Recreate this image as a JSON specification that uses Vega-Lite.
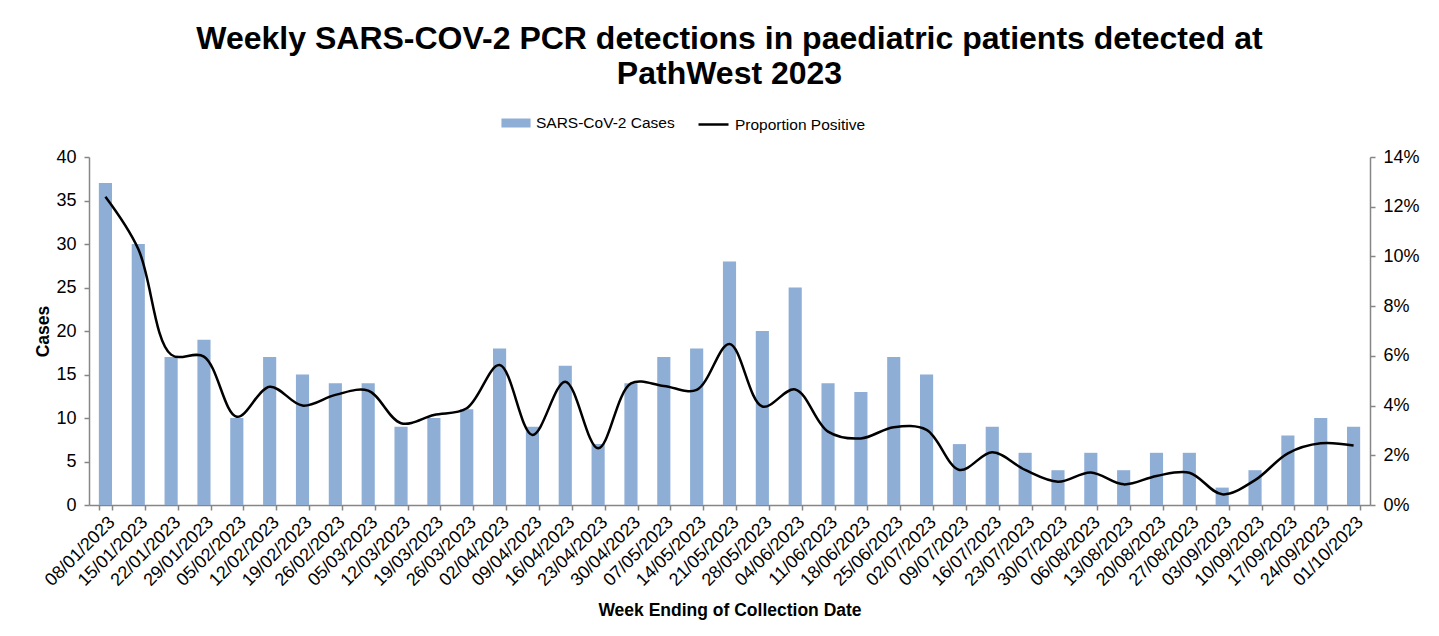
{
  "$schema": "https://vega.github.io/schema/vega-lite/v6.json",
  "autosize": {"type": "none"},
  "width": 1281,
  "height": 348,
  "padding": {"left": 89, "top": 157, "right": 69, "bottom": 131},
  "background": "white",
  "title": {
    "text": ["Weekly SARS-COV-2 PCR detections in paediatric patients detected at", "PathWest 2023"],
    "font": "Liberation Sans",
    "fontSize": 32,
    "fontWeight": "bold",
    "color": "black",
    "anchor": "middle",
    "lineHeight": 35,
    "offset": 17
  },
  "config": {
    "font": "Liberation Sans",
    "view": {"stroke": null},
    "axis": {
      "labelFont": "Liberation Sans",
      "labelFontSize": 18,
      "labelColor": "black",
      "titleFont": "Liberation Sans",
      "titleFontSize": 17.5,
      "titleFontWeight": "bold",
      "titleColor": "black",
      "domainColor": "#868686",
      "tickColor": "#868686",
      "domainWidth": 1.5,
      "tickWidth": 1.5,
      "tickSize": 5,
      "grid": false
    },
    "legend": {
      "labelFont": "Liberation Sans",
      "labelFontSize": 15.5,
      "labelColor": "black",
      "labelOffset": 5
    }
  },
  "data": {
    "values": [
      {"week": "08/01/2023", "cases": 37, "prop": 0.124},
      {"week": "15/01/2023", "cases": 30, "prop": 0.103},
      {"week": "22/01/2023", "cases": 17, "prop": 0.0605},
      {"week": "29/01/2023", "cases": 19, "prop": 0.0597},
      {"week": "05/02/2023", "cases": 10, "prop": 0.0355},
      {"week": "12/02/2023", "cases": 17, "prop": 0.0476},
      {"week": "19/02/2023", "cases": 15, "prop": 0.040},
      {"week": "26/02/2023", "cases": 14, "prop": 0.0443},
      {"week": "05/03/2023", "cases": 14, "prop": 0.046},
      {"week": "12/03/2023", "cases": 9, "prop": 0.0329},
      {"week": "19/03/2023", "cases": 10, "prop": 0.0362},
      {"week": "26/03/2023", "cases": 11, "prop": 0.0389},
      {"week": "02/04/2023", "cases": 18, "prop": 0.0563},
      {"week": "09/04/2023", "cases": 9, "prop": 0.0282},
      {"week": "16/04/2023", "cases": 16, "prop": 0.0496},
      {"week": "23/04/2023", "cases": 7, "prop": 0.0228},
      {"week": "30/04/2023", "cases": 14, "prop": 0.0489},
      {"week": "07/05/2023", "cases": 17, "prop": 0.0479},
      {"week": "14/05/2023", "cases": 18, "prop": 0.0463},
      {"week": "21/05/2023", "cases": 28, "prop": 0.0648},
      {"week": "28/05/2023", "cases": 20, "prop": 0.0396},
      {"week": "04/06/2023", "cases": 25, "prop": 0.0465},
      {"week": "11/06/2023", "cases": 14, "prop": 0.0295},
      {"week": "18/06/2023", "cases": 13, "prop": 0.0268},
      {"week": "25/06/2023", "cases": 17, "prop": 0.0313},
      {"week": "02/07/2023", "cases": 15, "prop": 0.0302},
      {"week": "09/07/2023", "cases": 7, "prop": 0.0141},
      {"week": "16/07/2023", "cases": 9, "prop": 0.0212},
      {"week": "23/07/2023", "cases": 6, "prop": 0.0141},
      {"week": "30/07/2023", "cases": 4, "prop": 0.0094},
      {"week": "06/08/2023", "cases": 6, "prop": 0.0131},
      {"week": "13/08/2023", "cases": 4, "prop": 0.0083},
      {"week": "20/08/2023", "cases": 6, "prop": 0.0117},
      {"week": "27/08/2023", "cases": 6, "prop": 0.013},
      {"week": "03/09/2023", "cases": 2, "prop": 0.0043},
      {"week": "10/09/2023", "cases": 4, "prop": 0.010},
      {"week": "17/09/2023", "cases": 8, "prop": 0.0208},
      {"week": "24/09/2023", "cases": 10, "prop": 0.0248},
      {"week": "01/10/2023", "cases": 9, "prop": 0.0239}
    ]
  },
  "encoding": {
    "x": {
      "field": "week",
      "type": "ordinal",
      "sort": null,
      "scale": {"paddingInner": 0.6, "paddingOuter": 0.3},
      "axis": {
        "title": "Week Ending of Collection Date",
        "labelAngle": -45,
        "labelAlign": "right",
        "labelBaseline": "top",
        "labelPadding": 3,
        "tickBand": "extent",
        "titlePadding": 12
      }
    }
  },
  "layer": [
    {
      "mark": {"type": "bar"},
      "encoding": {
        "y": {
          "field": "cases",
          "type": "quantitative",
          "scale": {"domain": [0, 40], "nice": false},
          "axis": {"title": "Cases", "values": [0, 5, 10, 15, 20, 25, 30, 35, 40], "titlePadding": 3, "labelPadding": 8}
        },
        "fill": {
          "datum": "SARS-CoV-2 Cases",
          "scale": {"range": ["#8EAED6"]},
          "legend": {
            "title": null,
            "orient": "none",
            "legendX": 412,
            "legendY": -49,
            "symbolType": "M-0.97,-0.3H0.97V0.3H-0.97Z",
            "symbolSize": 900,
            "symbolStrokeWidth": 0
          }
        }
      }
    },
    {
      "mark": {"type": "line", "interpolate": "catmull-rom", "strokeWidth": 2.5},
      "encoding": {
        "y": {
          "field": "prop",
          "type": "quantitative",
          "scale": {"domain": [0, 0.14], "nice": false},
          "axis": {"title": null, "orient": "right", "format": ".0%", "values": [0, 0.02, 0.04, 0.06, 0.08, 0.1, 0.12, 0.14], "labelPadding": 8}
        },
        "stroke": {
          "datum": "Proportion Positive",
          "scale": {"range": ["black"]},
          "legend": {
            "title": null,
            "orient": "none",
            "legendX": 608,
            "legendY": -49,
            "symbolType": "stroke",
            "symbolSize": 900,
            "symbolStrokeWidth": 2.5
          }
        }
      }
    }
  ],
  "resolve": {"scale": {"y": "independent", "fill": "independent", "stroke": "independent"}}
}
